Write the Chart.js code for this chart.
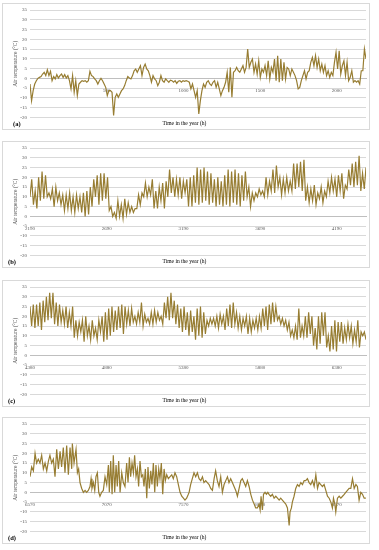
<!DOCTYPE html>
<html>
<head>
<meta charset="utf-8">
<script src="https://cdn.jsdelivr.net/npm/chart.js@4.4.1/dist/chart.umd.min.js"></script>
<style>
  body { margin: 0; background: #fff; width: 379px; height: 550px; position: relative; overflow: hidden; font-family: "Liberation Serif", serif; }
  .panel { position: absolute; left: 2px; width: 366px; height: 125px; border: 1px solid #D9D9D9; }
  .panel canvas { position: absolute; left: 0; top: 0; }
  .tag { position: absolute; top: 116px; font-size: 6.5px; line-height: 7px; font-weight: bold; color: #000; }
</style>
</head>
<body>
<div class="panel" style="top:3px"><canvas id="chartA" width="366" height="125"></canvas><span class="tag" style="left:10px">(a)</span></div>
<div class="panel" style="top:141px"><canvas id="chartB" width="366" height="125"></canvas><span class="tag" style="left:5px">(b)</span></div>
<div class="panel" style="top:280px"><canvas id="chartC" width="366" height="125"></canvas><span class="tag" style="left:5px">(c)</span></div>
<div class="panel" style="top:417px"><canvas id="chartD" width="366" height="125"></canvas><span class="tag" style="left:5px">(d)</span></div>
<script>
// hourly air temperature (roughly two samples per day)
const ticksA = [500, 1000, 1500, 2000];
const ticksB = [2190, 2690, 3190, 3690, 4190];
const ticksC = [4380, 4880, 5380, 5880, 6380];
const ticksD = [6570, 7070, 7570, 8070, 8570];

const tempsA = [
  -2.9, -11.4, -6.3, -2.9, -1.2, 0, 0.5, 0.9, 2.2, 3.1,
  1.4, 4.4, 1.4, 3.6, -1.2, 0.9, -0.3, 1.9, 0.2, 1.4,
  2.2, 0.5, 1.9, 0.2, 1.4, -1.2, -5.4, 1.4, -7.1, -1.2,
  -8.8, -2.9, -2, -1.2, -1.5, -1.2, -2, -1.2, 3.6, 1.4,
  0.9, -0.3, -1.2, -2.9, -1.2, 0, -1.2, -2.9, -4.6, -8.8,
  -6.3, -6.3, -7.1, -19, -9.7, -8, -9.7, -8, -6.3, -5.4,
  -3.7, -1.2, 0.9, 0.2, -0.3, 1.4, 3.9, 4.8, 3.1, 4.8,
  6.5, 1.4, 5.6, 7.3, 4.8, 3.9, 1.4, -2, 1.4, -0.3,
  -1.2, -3.7, -2, 1.4, -1.2, -2, -0.3, -1.2, -2, -0.9,
  -1.2, -2, -1.2, -2.6, -1.5, -1.2, -2, -1.2, -1.5,
  -1.2, -1.5, -2, -5.4, -2.9, -6.3, -9.7, -6.3, -18.2, -11.4,
  -6.3, -2.9, -4.6, -2, -1.2, -2.9, -3.7, -2, -1.2, -4.6,
  -2, -5.4, -8.8, -6.3, -4.6, -2, 3.1, -7.1, 5.6, -9.7,
  3.1, 3.9, 5.6, 3.9, 3.1, 4.8, 6.5, 3.1, 5.6, 15,
  5.6, 8.2, 9.9, 3.1, 7.3, 2.2, 9, 0.5, 4.8, 3.1,
  6.5, 1.4, 9, -0.3, 5.6, 3.1, 9.9, -1.2, 11.6, -2,
  9.9, -1.2, 8.2, -0.3, 5.6, 4.8, 1.4, 4.8, 3.1, 1.4,
  -1.2, -5.4, -4.6, -1.2, 1.4, 3.9, -0.3, 3.1, 3.9, 8.2,
  10.7, 6.5, 11.6, 5.6, 9.9, 3.9, 7.3, 3.1, 6.5, 1.4,
  3.9, 0.5, 3.1, 1.4, 8.2, 13.3, 4.8, 14.1, 2.2, 6.5,
  9, 1.4, 8.2, -1.2, 0.5, 3.9, -2, -1.2, -2, -1.2,
  -2.9, 3.9, 3.9, 15, 9.9
];

const tempsB = [
  10, 19, 6, 13, 4, 20, 8, 23, 9, 21,
  10, 12, 9, 14, 5, 15, 8, 12,
  6, 11, 3, 11, 4, 12, 3, 10, 2, 11, 4, 10, 2, 12, 0, 13,
  1, 15, 5, 19, 10, 21, 6, 22, 8, 22, 9, 20,
  3, 5, 0, 2,
  -1, 8, 0, 6, -1, 9, 1, 7, 2, 5,
  2, 4, 4, 11, 6, 12, 10, 17,
  10, 15, 11, 19, 4, 13,
  4, 15, 8, 17, 4, 18, 10, 24,
  12, 20, 10, 19, 11, 20, 9, 18, 12, 19, 5, 20,
  5, 21, 7, 25, 6, 24, 7, 25, 8, 23, 6, 22,
  7, 19, 5, 20, 6, 18, 5, 21,
  6, 24, 5, 23, 7, 24, 6, 22, 5, 21, 8, 23,
  10, 15, 5, 12,
  8, 12, 10, 14, 11, 13,
  10, 20, 11, 18,
  13, 24, 12, 26, 15, 20,
  11, 19, 12, 20, 13, 18,
  13, 27, 14, 27, 15, 28, 13, 29,
  8, 15,
  7, 14, 8, 16, 6, 12, 9, 15, 7, 13,
  10, 18, 12, 20, 13, 19,
  10, 21, 13, 22, 9, 16,
  14, 24, 16, 27, 15, 28, 16, 31,
  13, 22, 14, 25
];

const tempsC = [
  25, 15, 26, 14, 26, 15, 27, 13, 28, 17, 30, 18, 32, 19, 32, 16, 27, 15, 26, 17,
  23, 16, 25, 14, 22, 15, 25, 9, 18, 10, 17, 12, 18, 7, 20, 10, 15, 8, 18, 10,
  14, 8, 18, 12, 20, 7, 22, 8, 24, 10, 25, 12, 23, 13, 25, 14, 26, 11, 25, 16,
  23, 15, 24, 17, 20, 16, 22, 17, 27, 15, 21, 17, 19, 16, 22, 16, 23, 17, 22, 18,
  20, 16, 27, 19, 30, 18, 32, 19, 28, 16, 26, 14, 24, 12, 25, 13, 22, 10, 23, 12,
  20, 8, 24, 10, 25, 9, 22, 11, 18, 15, 19, 16, 19, 15, 20, 14, 21, 16, 20, 13,
  24, 15, 26, 14, 27, 16, 22, 14, 20, 13, 19, 15, 20, 11, 19, 12, 18, 14, 19, 13,
  20, 14, 24, 15, 25, 13, 26, 16, 27, 17, 25, 18, 20, 16, 19, 15, 18, 13, 17, 10,
  13, 9, 15, 8, 24, 9, 15, 10, 20, 9, 22, 11, 20, 5, 14, 3, 20, 6, 22, 10,
  22, 4, 10, 2, 15, 3, 18, 2, 17, 7, 17, 6, 14, 8, 16, 9, 15, 6, 13, 7,
  18, 4, 12, 10, 12, 8
];

const hoursD = [
  6570, 6581, 6592, 6603, 6613, 6624, 6635, 6646, 6657, 6668,
  6679, 6690, 6700, 6711, 6722, 6733, 6744, 6755, 6766, 6776,
  6787, 6798, 6809, 6820, 6831, 6842, 6846, 6857, 6870, 6879,
  6887, 6896, 6907, 6918, 6929, 6939, 6950, 6961, 6968, 6974,
  6983, 6992, 7000, 7009, 7018, 7026, 7037, 7048, 7059, 7070,
  7081, 7087, 7096, 7105, 7113, 7122, 7131, 7139, 7148, 7157,
  7168, 7178, 7189, 7200, 7209, 7218, 7226, 7235, 7244, 7252,
  7261, 7270, 7278, 7287, 7296, 7305, 7313, 7322, 7331, 7339,
  7348, 7357, 7365, 7374, 7383, 7391, 7400, 7409, 7417, 7426,
  7435, 7444, 7452, 7461, 7472, 7483, 7494, 7504, 7515, 7526,
  7537, 7548, 7559, 7570, 7580, 7591, 7602,
  7607, 7617, 7628, 7639, 7650, 7661, 7672, 7683, 7694, 7704,
  7715, 7726, 7737, 7748, 7759, 7770, 7780, 7791, 7802, 7813,
  7824, 7835, 7846, 7857, 7867, 7878, 7889, 7900, 7911, 7922,
  7933, 7944, 7954, 7965, 7976, 7987, 7998, 8009, 8020, 8031,
  8041, 8052, 8063, 8070, 8076, 8085, 8092, 8102, 8111, 8120,
  8128, 8139, 8150, 8161, 8172, 8183, 8194, 8204, 8215, 8226,
  8237, 8248, 8259, 8265, 8274, 8280, 8291, 8302, 8313, 8324,
  8335, 8346, 8357, 8367, 8378, 8389, 8400, 8411, 8422, 8433,
  8444, 8454, 8465, 8476, 8487, 8498, 8509, 8520, 8531, 8541,
  8548, 8557, 8563, 8574, 8585, 8596, 8607, 8618, 8628, 8639,
  8650, 8661, 8672, 8683, 8694, 8704, 8715, 8726, 8737, 8748,
  8759
];
const tempsD = [
  8, 13, 11, 20, 15, 17, 15, 19, 12, 15,
  11, 16, 19, 15, 17, 8, 22, 12, 21, 13,
  23, 10, 24, 9, 23, 12, 25, 15, 22, 10,
  12, 5, 2, 0, 1, 0, 1, 3, 7, 2,
  5, 1, 8, 10, 0, -2, 0, 1, 8, 4,
  14, 0, 16, -1, 19, 0, 14, 3, 16, 0,
  10, 5, 3, 15, 5, 18, 8, 15, 10, 19,
  8, 12, 3, 16, 8, 9, 3, 12, -3, 13,
  2, 11, 4, 15, 0, 14, 3, 12, 7, 15,
  -1, 12, 6, 9, 7, 8, 9, 7, 10, 8,
  4, 0, -2, -3, -4, -3, -1,
  0, 4, 7, 10, 8, 10, 7, 6, 8, 5,
  6, 5, 4, 2, 1, 7, 11, 6, 3, 8,
  0, 4, 6, 8, 5, 7, 5, 3, 1, -2,
  2, 6, 7, 5, 3, 6, 3, -1, -4, -6,
  -8, -8, -6, -9, -2, -9, -1, 0, -1, 0,
  -1, -2, -1, -3, -2, -3, -4, -3, -4, -5,
  -6, -8, -17, -10, -8, -5, -2, 2, 4, 3,
  5, 4, 6, 6, 7, 5, 4, 6, 3, 9,
  2, 5, 4, 3, 4, 1, -2, -3, -5, -8,
  -3, -6, -10, -3, -2, -3, -2, -1, 0, 1,
  2, 2, 7, 2, 4, 3, -4, 0, -1, -3,
  -3
];

const lineColor = '#977D32';
const serif = 'Liberation Serif';

// spread samples evenly across the panel's 2190 h span
function spread(temps, start) {
  const step = 2190 / (temps.length - 1);
  return temps.map((t, i) => ({ x: start + i * step, y: t }));
}

function makePanel(id, points, xmin, xticks) {
  return new Chart(document.getElementById(id), {
    type: 'line',
    data: {
      datasets: [{
        data: points,
        borderColor: lineColor,
        borderWidth: 1.2,
        pointRadius: 0,
        tension: 0,
        fill: false
      }]
    },
    options: {
      responsive: false,
      animation: false,
      devicePixelRatio: 1,
      layout: { padding: { top: 5, right: 3, bottom: 0, left: 0 } },
      plugins: {
        legend: { display: false },
        tooltip: { enabled: false },
        title: {
          display: true,
          position: 'bottom',
          text: 'Time in the year (h)',
          color: '#000',
          font: { family: serif, size: 5.5, weight: 'normal' },
          padding: { top: 3, bottom: 2 }
        }
      },
      scales: {
        x: {
          type: 'linear',
          position: { y: 0 },
          min: xmin,
          max: xmin + 2190,
          afterBuildTicks: s => { s.ticks = xticks.map(v => ({ value: v })); },
          ticks: {
            autoSkip: false,
            maxRotation: 0,
            padding: 1,
            color: '#595959',
            font: { family: serif, size: 5 },
            callback: v => String(v)
          },
          grid: { display: false },
          border: { color: '#BFBFBF', width: 1 }
        },
        y: {
          min: -20,
          max: 35,
          afterFit: s => { s.width = 27; },
          ticks: {
            stepSize: 5,
            padding: 3,
            color: '#595959',
            font: { family: serif, size: 5 }
          },
          grid: { color: '#D9D9D9', lineWidth: 1, drawTicks: false },
          border: { display: false },
          title: {
            display: true,
            text: 'Air temperature (°C)',
            color: '#404040',
            font: { family: serif, size: 5.5 },
            padding: { top: 9, bottom: 0 }
          }
        }
      }
    }
  });
}

makePanel('chartA', spread(tempsA, 0), 0, ticksA);
makePanel('chartB', spread(tempsB, 2190), 2190, ticksB);
makePanel('chartC', spread(tempsC, 4380), 4380, ticksC);
makePanel('chartD', hoursD.map((h, i) => ({ x: h, y: tempsD[i] })), 6570, ticksD);
</script>
</body>
</html>
